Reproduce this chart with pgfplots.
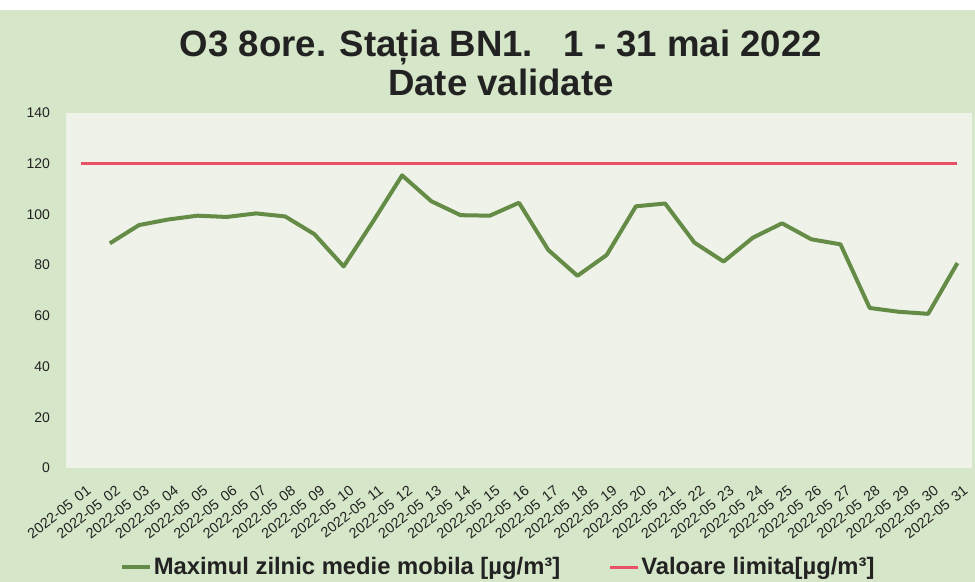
\documentclass[border=0pt]{standalone}
\usepackage{fontspec}
\setmainfont{Liberation Sans}
\usepackage{pgfplots}
\pgfplotsset{compat=1.18}
\definecolor{outerbg}{HTML}{D6E6C8}
\definecolor{plotbg}{HTML}{EEF2E8}
\definecolor{lgreen}{HTML}{648C46}
\definecolor{lred}{HTML}{E85064}
\definecolor{txt}{HTML}{222222}
\newcommand\dd[1]{2022-05\hspace{0.45em}#1}
\begin{document}
\begin{tikzpicture}
\path[use as bounding box] (0,0) rectangle (487.5pt,291pt);
\fill[outerbg] (0,0) rectangle (487.5pt,286pt);
\node[text=txt, font=\bfseries\fontsize{18.3}{19.5}\selectfont, align=center] at (250.5pt,259.5pt) {O3 8ore. Stația BN1.\ \ \ 1 - 31 mai 2022\\Date validate};
\begin{axis}[
  at={(33pt,57pt)}, anchor=south west,
  scale only axis, width=453pt, height=177.5pt,
  axis background/.style={fill=plotbg},
  axis line style={draw=none},
  major tick length=0pt,
  xmin=0.5, xmax=31.5, ymin=0, ymax=140,
  ytick={0,20,...,140},
  xtick={1,...,31},
  xticklabels={\dd{01},\dd{02},\dd{03},\dd{04},\dd{05},\dd{06},\dd{07},\dd{08},\dd{09},\dd{10},\dd{11},\dd{12},\dd{13},\dd{14},\dd{15},\dd{16},\dd{17},\dd{18},\dd{19},\dd{20},\dd{21},\dd{22},\dd{23},\dd{24},\dd{25},\dd{26},\dd{27},\dd{28},\dd{29},\dd{30},\dd{31}},
  /pgf/number format/assume math mode=true,
  yticklabel style={font=\fontsize{7}{8}\selectfont, text=txt, xshift=-4.5pt},
  xticklabel style={font=\fontsize{7.2}{8}\selectfont, text=txt, rotate=38, anchor=north east, inner sep=1pt, yshift=-7pt, xshift=-2pt},
  legend style={at={(0.477,-0.279)}, anchor=center, legend columns=2, draw=none, fill=none,
    font=\bfseries\fontsize{11.9}{14}\selectfont, text=txt,
    /tikz/every even column/.append style={column sep=23pt},
    nodes={inner xsep=1pt}},
  legend image code/.code={\draw[#1] (0pt,0pt) -- (14pt,0pt);},
]
\addplot[lgreen, line width=2pt, line join=round] coordinates {
(2,88.6) (3,95.8) (4,98.0) (5,99.5) (6,99.0) (7,100.4) (8,99.2) (9,92.2) (10,79.5)
(11,97.1) (12,115.4) (13,105.2) (14,99.7) (15,99.5) (16,104.6) (17,86.0) (18,75.8)
(19,84.0) (20,103.2) (21,104.3) (22,88.9) (23,81.4) (24,90.8) (25,96.5) (26,90.2)
(27,88.2) (28,63.1) (29,61.6) (30,60.8) (31,80.8)
};
\addlegendentry{Maximul zilnic medie mobila [µg/m³]}
\addplot[lred, line width=1.5pt] coordinates {
(1,120) (2,120) (3,120) (4,120) (5,120) (6,120) (7,120) (8,120) (9,120) (10,120)
(11,120) (12,120) (13,120) (14,120) (15,120) (16,120) (17,120) (18,120) (19,120) (20,120)
(21,120) (22,120) (23,120) (24,120) (25,120) (26,120) (27,120) (28,120) (29,120) (30,120) (31,120)
};
\addlegendentry{Valoare limita[µg/m³]}
\end{axis}
\end{tikzpicture}
\end{document}
